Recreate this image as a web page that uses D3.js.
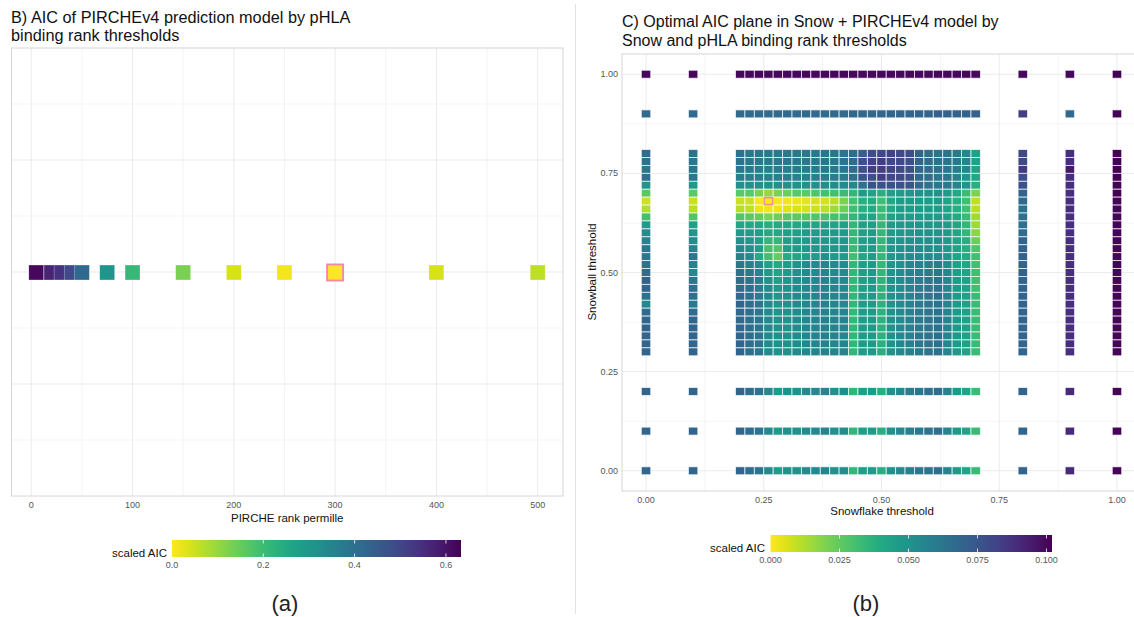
<!DOCTYPE html>
<html><head><meta charset="utf-8">
<script src="https://cdn.jsdelivr.net/npm/d3@7"></script>
<style>
body{margin:0;background:#fff;}
text{font-family:"Liberation Sans",Arial,sans-serif;}
</style>
</head><body>
<svg id="c" width="1134" height="617"></svg>
<script>
// ---------- Panel B data ----------
const pircheRank = [5, 20, 30, 40, 50, 75, 100, 150, 200, 250, 300, 400, 500];
const pircheAIC  = [0.62, 0.57, 0.54, 0.49, 0.42, 0.30, 0.21, 0.127, 0.038, 0.01, 0.0, 0.038, 0.063];
const pircheBest = 300;
const pircheTicks = [0, 100, 200, 300, 400, 500];
const pircheLegendTicks = [0.0, 0.2, 0.4, 0.6];
const pircheAICMax = 0.633;

// ---------- Panel C data ----------
const snowflake = [0.00, 0.10, 0.20, 0.22, 0.24, 0.26, 0.28, 0.30, 0.32, 0.34, 0.36, 0.38, 0.40, 0.42, 0.44, 0.46, 0.48, 0.50, 0.52, 0.54, 0.56, 0.58, 0.60, 0.62, 0.64, 0.66, 0.68, 0.70, 0.80, 0.90, 1.00];
const snowball = [1.00, 0.90, 0.80, 0.78, 0.76, 0.74, 0.72, 0.70, 0.68, 0.66, 0.64, 0.62, 0.60, 0.58, 0.56, 0.54, 0.52, 0.50, 0.48, 0.46, 0.44, 0.42, 0.40, 0.38, 0.36, 0.34, 0.32, 0.30, 0.20, 0.10, 0.00];
// scaled AIC x 1000, one row per snowball threshold (same order), one column per snowflake threshold
const snowAICx1000 = [
 [100,100, 100,100,100,100,100,100,100,100,100,100,100,100,100,100,100,100,100,100,100,100,100,100,100,100,100,100, 100,100,102],
 [67,67, 67,67,67,67,67,67,67,67,67,67,67,67,68,68,68,68,69,69,69,69,69,70,70,70,70,70, 84,67,101],
 [67,64, 64,61,61,61,61,61,61,61,61,62,62,63, 66,72,78,80,82,80,78, 70,66,64,64,61,56,44, 80,88,102],
 [64,61, 63,61,61,61,61,61,61,61,61,62,62,63, 67,77,82,84,80,80,77, 70,66,64,63,61,56,44, 80,88,102],
 [61,61, 61,60,59,59,59,59,60,60,60,61,61,62, 66,77,84,84,82,80,77, 68,65,63,62,60,55,43, 85,95,102],
 [64,61, 58,57,57,57,57,57,57,57,58,58,59,60, 64,75,77,84,80,80,77, 67,64,61,61,56,49,41, 77,88,102],
 [49,46, 51,51,51,51,51,51,51,51,51,52,52,53, 54,64,77,77,77,77,75, 67,64,61,61,56,49,38, 77,88,102],
 [26,26, 26,26,20,16,20,23,26,26,28,30,31,33, 35,46,43,38,45,46,49, 51,51,51,46,41,33,20, 70,88,102],
 [8,8, 8,8,1,0,1,2,3,4,6,7,11,20, 30,38,40,31,41,46,46, 46,46,46,43,38,31,10, 67,88,101],
 [12,11, 11,10,3,2,3,5,6,7,8,11,15,23, 31,38,40,33,41,46,46, 46,46,46,43,38,31,11, 64,88,101],
 [30,28, 28,26,24,20,23,26,26,27,28,29,30,31, 35,41,43,33,44,46,46, 47,47,46,44,40,33,15, 64,88,101],
 [46,44, 42,41,41,38,40,41,41,42,42,43,43,44, 35,44,45,35,46,47,48, 49,49,48,46,42,35,15, 64,88,101],
 [52,49, 47,46,45,40,41,44,45,46,46,46,47,47, 35,45,46,35,46,48,49, 50,50,49,46,42,35,18, 67,88,101],
 [56,52, 51,48,45,35,35,45,46,46,47,47,48,48, 35,45,46,35,47,49,51, 51,51,50,47,43,38,23, 69,88,101],
 [61,56, 54,51,45,30,28,45,46,47,48,48,49,49, 33,45,46,35,48,50,52, 52,52,51,48,43,38,28, 70,88,101],
 [61,61, 58,54,40,31,24,40,42,45,46,50,47,47, 31,42,46,35,48,50,52, 53,53,52,48,43,40,31, 70,88,101],
 [64,57, 62,58,53,44,41,46,51,53,54,56,54,53, 35,45,47,35,49,51,55, 57,58,60,52,44,42,31, 70,88,101],
 [67,54, 64,61,56,46,43,47,51,53,54,56,54,53, 35,45,47,35,49,52,56, 58,60,62,54,45,43,31, 70,88,101],
 [70,61, 66,63,58,50,45,49,52,53,55,57,55,54, 35,45,47,36,50,52,56, 59,61,63,55,46,44,31, 69,88,101],
 [69,64, 66,64,58,53,47,50,53,54,55,57,56,54, 35,45,47,36,50,52,56, 59,61,63,55,46,44,31, 69,88,101],
 [64,64, 67,64,60,54,48,50,53,54,56,57,56,55, 35,45,47,37,50,53,56, 59,61,64,55,46,44,33, 69,88,101],
 [54,61, 69,65,61,54,49,51,53,55,56,58,56,55, 35,46,47,37,50,53,57, 60,62,64,56,47,44,33, 69,88,101],
 [67,67, 68,65,61,54,49,51,53,55,56,58,56,56, 35,46,47,37,51,53,57, 60,62,64,56,47,44,33, 69,88,101],
 [69,69, 68,65,62,54,50,51,53,55,57,58,57,56, 35,46,47,37,51,53,57, 60,62,64,56,47,44,33, 69,88,101],
 [70,69, 69,66,62,54,50,51,53,55,57,58,57,56, 35,46,47,37,51,54,57, 60,62,65,56,47,44,33, 69,88,101],
 [69,69, 69,66,62,54,50,51,53,55,57,58,57,56, 35,46,47,37,51,54,57, 61,63,65,56,47,44,33, 69,88,101],
 [69,69, 69,66,63,54,50,51,53,55,57,58,57,56, 35,46,47,38,51,54,58, 61,63,65,56,47,44,33, 69,88,101],
 [69,69, 69,66,63,54,50,51,53,55,57,58,57,56, 35,46,47,38,51,54,58, 61,63,65,56,47,43,33, 69,88,101],
 [69,69, 69,66,63,54,46,50,51,53,54,56,51,52, 35,45,46,38,51,54,58, 61,63,65,56,47,43,33, 69,90,101],
 [69,69, 69,66,63,54,46,50,51,53,54,56,51,52, 35,45,46,38,51,54,58, 61,63,65,56,47,43,33, 69,90,101],
 [69,69, 69,66,63,54,46,50,51,53,54,56,51,52, 35,45,46,38,51,54,58, 61,63,65,56,47,43,33, 69,90,101]
];
const snowBest = {snowflake: 0.26, snowball: 0.68};
const snowTicks = [0.00, 0.25, 0.50, 0.75, 1.00];
const snowLegendTicks = [0.000, 0.025, 0.050, 0.075, 0.100];
const snowAICMax = 0.102;
const snowResolution = 0.02;

// ---------- drawing ----------
const svg = d3.select("#c");
const defs = svg.append("defs");
const gridMajor = "#ebebeb", gridMinor = "#f4f4f4", borderCol = "#d6d6d6";
const tickCol = "#555555";
const pinkCol = "#f28aa5";

svg.append("line").attr("x1",575.5).attr("x2",575.5).attr("y1",4).attr("y2",614)
  .attr("stroke","#e3e3e3").attr("stroke-width",1);

function gradient(id) {
  const g = defs.append("linearGradient").attr("id", id).attr("x1","0%").attr("x2","100%");
  d3.range(0, 1.0001, 0.05).forEach(t => {
    g.append("stop").attr("offset", (t*100)+"%").attr("stop-color", d3.interpolateViridis(1 - t));
  });
}
gradient("gradA"); gradient("gradB");

// ===== Panel B =====
(function(){
  const L = 11.5, R = 563, T = 48, B = 496;
  const x = d3.scaleLinear().domain([-19.5, 525]).range([L, R]);
  const y = d3.scaleLinear().domain([-1, 1]).range([B, T]);
  const col = v => d3.interpolateViridis(1 - v / pircheAICMax);
  const g = svg.append("g");
  g.append("text").attr("x", 11).attr("y", 23).attr("font-size", 16.3).attr("fill","#111")
    .text("B) AIC of PIRCHEv4 prediction model by pHLA");
  g.append("text").attr("x", 11).attr("y", 41).attr("font-size", 16.3).attr("fill","#111")
    .text("binding rank thresholds");
  // grid
  [-0.75,-0.5,-0.25,0,0.25,0.5,0.75].forEach(v => {
    g.append("line").attr("x1",L).attr("x2",R).attr("y1",y(v)).attr("y2",y(v))
      .attr("stroke", Math.abs(v*2)%1===0 ? gridMajor : gridMinor).attr("stroke-width",1);
  });
  [50,150,250,350,450].forEach(v => {
    g.append("line").attr("x1",x(v)).attr("x2",x(v)).attr("y1",T).attr("y2",B)
      .attr("stroke",gridMinor).attr("stroke-width",1);
  });
  pircheTicks.forEach(v => {
    g.append("line").attr("x1",x(v)).attr("x2",x(v)).attr("y1",T).attr("y2",B)
      .attr("stroke",gridMajor).attr("stroke-width",1);
  });
  g.append("rect").attr("x",L).attr("y",T).attr("width",R-L).attr("height",B-T)
    .attr("fill","none").attr("stroke",borderCol).attr("stroke-width",1);
  const w = x(14.8) - x(0);
  g.selectAll("rect.t").data(pircheRank.map((r,i)=>({r, v: pircheAIC[i]}))).enter()
    .append("rect").attr("class","t")
    .attr("x", d => x(d.r) - w/2).attr("y", y(0) - w/2 + 0.5)
    .attr("width", w).attr("height", w)
    .attr("fill", d => col(d.v)).attr("stroke","#ffffff").attr("stroke-opacity",0.5).attr("stroke-width",0.6);
  g.append("rect").attr("x", x(pircheBest) - w/2 - 0.5).attr("y", y(0) - w/2)
    .attr("width", w+1).attr("height", w+1).attr("fill","none")
    .attr("stroke", pinkCol).attr("stroke-width", 2);
  // axis labels
  pircheTicks.forEach(v => {
    g.append("text").attr("x", x(v)).attr("y", 508).attr("text-anchor","middle")
      .attr("font-size", 9).attr("fill", tickCol).text(v);
  });
  g.append("text").attr("x", (L+R)/2).attr("y", 522).attr("text-anchor","middle")
    .attr("font-size", 11.5).attr("fill","#111").text("PIRCHE rank permille");
  // legend
  const lx = d3.scaleLinear().domain([0, pircheAICMax]).range([172, 461]);
  const ly = 540, lh = 17;
  g.append("rect").attr("x",172).attr("y",ly).attr("width",289).attr("height",lh).attr("fill","url(#gradA)");
  pircheLegendTicks.forEach(v => {
    if (v > 0) {
      g.append("line").attr("x1",lx(v)).attr("x2",lx(v)).attr("y1",ly).attr("y2",ly+3.5).attr("stroke","#fff").attr("stroke-width",0.8);
      g.append("line").attr("x1",lx(v)).attr("x2",lx(v)).attr("y1",ly+lh-3.5).attr("y2",ly+lh).attr("stroke","#fff").attr("stroke-width",0.8);
    }
    g.append("text").attr("x", lx(v)).attr("y", ly+lh+11).attr("text-anchor","middle")
      .attr("font-size",9).attr("fill",tickCol).text(d3.format(".1f")(v));
  });
  g.append("text").attr("x",167).attr("y",ly+lh-0.5).attr("text-anchor","end")
    .attr("font-size",11.5).attr("fill","#111").text("scaled AIC");
  g.append("text").attr("x",285).attr("y",611).attr("text-anchor","middle")
    .attr("font-family","Open Sans").attr("font-size",22).attr("fill","#222").text("(a)");
})();

// ===== Panel C =====
(function(){
  const L = 622, R = 1141, T = 54, B = 491;
  const x = d3.scaleLinear().domain([-0.051, 1.051]).range([L, R]);
  const y = d3.scaleLinear().domain([-0.051, 1.051]).range([B, T]);
  const col = v => d3.interpolateViridis(1 - v / snowAICMax);
  const g = svg.append("g");
  g.append("text").attr("x", 622).attr("y", 27).attr("font-size", 16).attr("fill","#111")
    .text("C) Optimal AIC plane in Snow + PIRCHEv4 model by");
  g.append("text").attr("x", 622).attr("y", 46).attr("font-size", 16).attr("fill","#111")
    .text("Snow and pHLA binding rank thresholds");
  [0.125,0.375,0.625,0.875].forEach(v => {
    g.append("line").attr("x1",x(v)).attr("x2",x(v)).attr("y1",T).attr("y2",B).attr("stroke",gridMinor);
    g.append("line").attr("x1",L).attr("x2",R).attr("y1",y(v)).attr("y2",y(v)).attr("stroke",gridMinor);
  });
  snowTicks.forEach(v => {
    g.append("line").attr("x1",x(v)).attr("x2",x(v)).attr("y1",T).attr("y2",B).attr("stroke",gridMajor);
    g.append("line").attr("x1",L).attr("x2",R).attr("y1",y(v)).attr("y2",y(v)).attr("stroke",gridMajor);
  });
  g.append("rect").attr("x",L).attr("y",T).attr("width",R-L).attr("height",B-T)
    .attr("fill","none").attr("stroke",borderCol);
  const cells = [];
  snowball.forEach((yb, i) => snowflake.forEach((xf, j) => cells.push({xf, yb, v: snowAICx1000[i][j] / 1000})));
  const tw = x(snowResolution) - x(0), th = y(0) - y(snowResolution);
  g.selectAll("rect.c").data(cells).enter().append("rect").attr("class","c")
    .attr("x", d => x(d.xf) - tw/2).attr("y", d => y(d.yb) - th/2)
    .attr("width", tw).attr("height", th)
    .attr("fill", d => col(d.v))
    .attr("stroke", "#ffffff").attr("stroke-opacity", 0.75).attr("stroke-width", 0.9);
  g.append("rect").attr("x", x(snowBest.snowflake) - tw/2 + 0.5).attr("y", y(snowBest.snowball) - th/2 + 0.5)
    .attr("width", tw - 1).attr("height", th - 1).attr("fill","none")
    .attr("stroke", pinkCol).attr("stroke-width", 1.6);
  snowTicks.forEach(v => {
    g.append("text").attr("x", x(v)).attr("y", 503).attr("text-anchor","middle")
      .attr("font-size", 9).attr("fill", tickCol).text(d3.format(".2f")(v));
    g.append("text").attr("x", 618).attr("y", y(v) + 3).attr("text-anchor","end")
      .attr("font-size", 9).attr("fill", tickCol).text(d3.format(".2f")(v));
  });
  g.append("text").attr("x", 882).attr("y", 515).attr("text-anchor","middle")
    .attr("font-size", 11.5).attr("fill","#111").text("Snowflake threshold");
  g.append("text").attr("transform","translate(596,272) rotate(-90)").attr("text-anchor","middle")
    .attr("font-size", 11.5).attr("fill","#111").text("Snowball threshold");
  // legend
  const lx = d3.scaleLinear().domain([0, snowAICMax]).range([770.5, 1052]);
  const ly = 535, lh = 17;
  g.append("rect").attr("x",770.5).attr("y",ly).attr("width",1052-770.5).attr("height",lh).attr("fill","url(#gradB)");
  snowLegendTicks.forEach(v => {
    if (v > 0) {
      g.append("line").attr("x1",lx(v)).attr("x2",lx(v)).attr("y1",ly).attr("y2",ly+3.5).attr("stroke","#fff").attr("stroke-width",0.8);
      g.append("line").attr("x1",lx(v)).attr("x2",lx(v)).attr("y1",ly+lh-3.5).attr("y2",ly+lh).attr("stroke","#fff").attr("stroke-width",0.8);
    }
    g.append("text").attr("x", lx(v)).attr("y", ly+lh+11).attr("text-anchor","middle")
      .attr("font-size",9).attr("fill",tickCol).text(d3.format(".3f")(v));
  });
  g.append("text").attr("x",765).attr("y",ly+lh-0.5).attr("text-anchor","end")
    .attr("font-size",11.5).attr("fill","#111").text("scaled AIC");
  g.append("text").attr("x",866).attr("y",611).attr("text-anchor","middle")
    .attr("font-family","Open Sans").attr("font-size",22).attr("fill","#222").text("(b)");
})();
</script>
</body></html>
